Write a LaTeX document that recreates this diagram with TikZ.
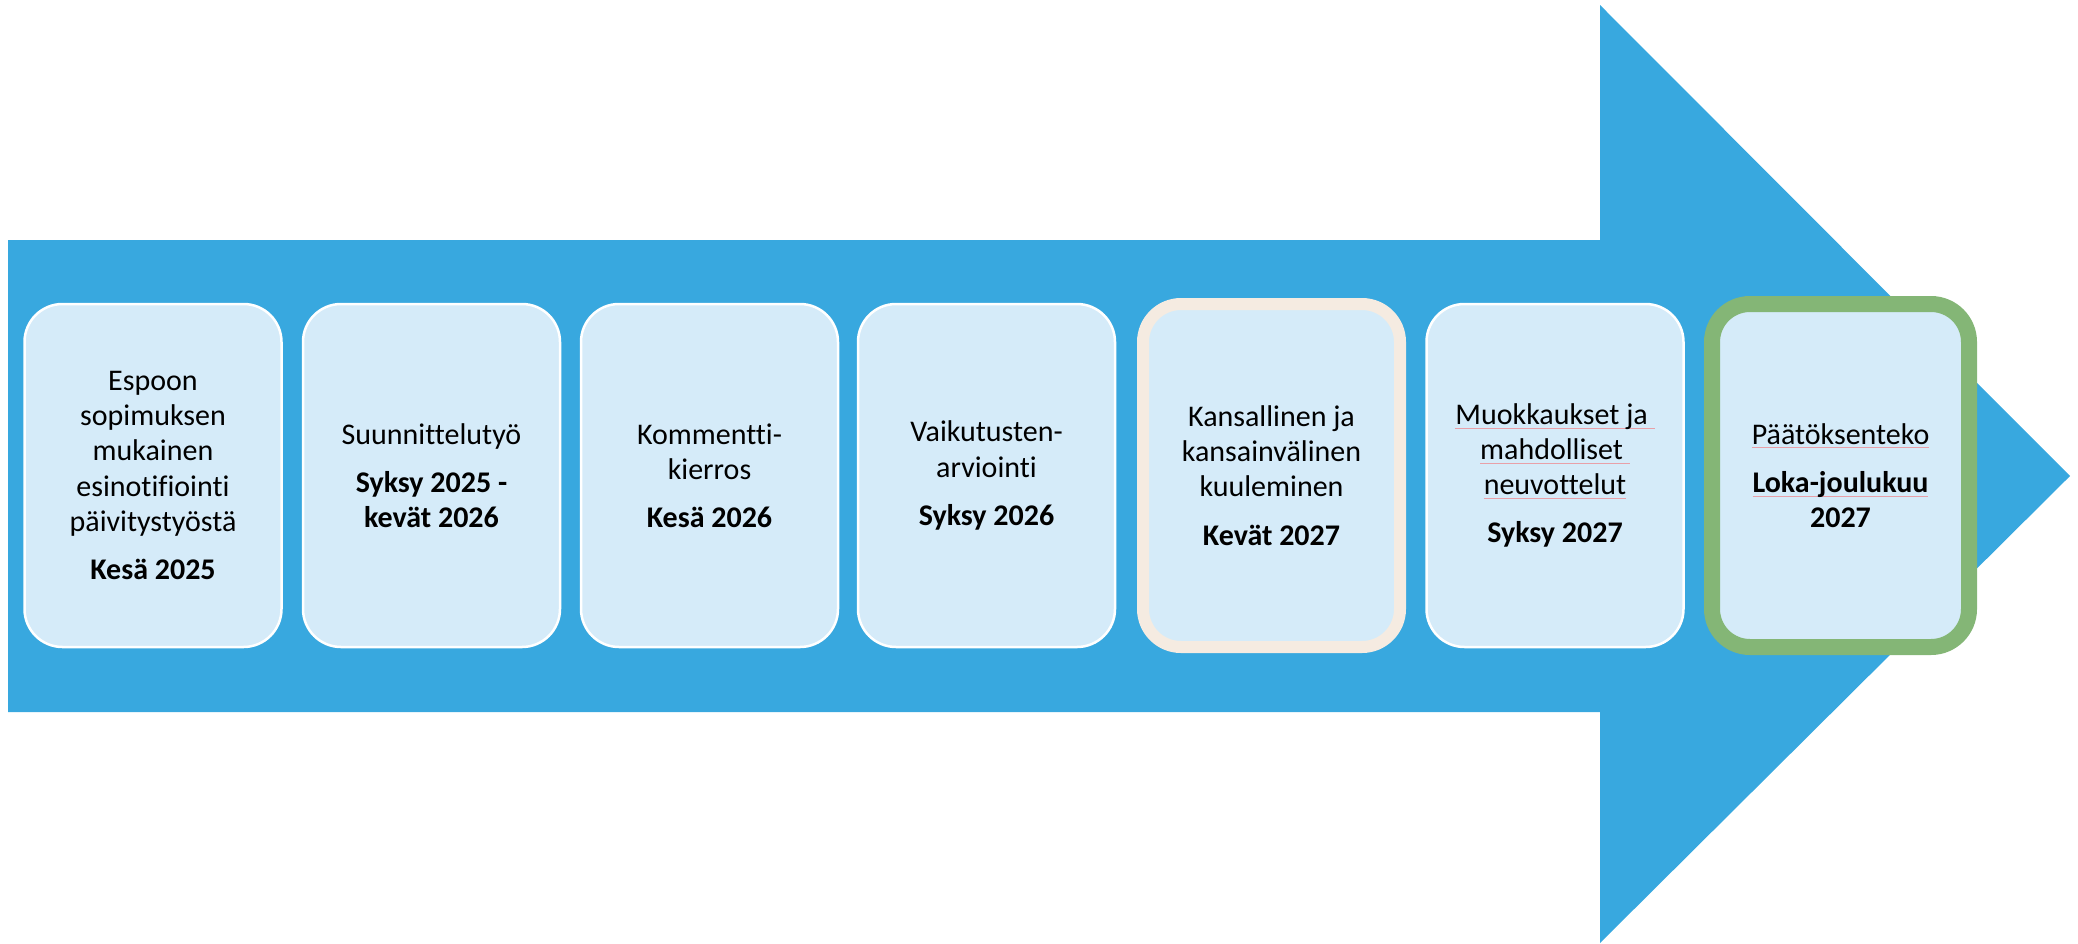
\documentclass[tikz,border=0pt]{standalone}
\usepackage{fontspec}
\setmainfont[Ligatures=NoCommon]{Carlito}
\usetikzlibrary{positioning}

\definecolor{arrowblue}{HTML}{38A8DF}
\definecolor{boxfill}{HTML}{D5EBF9}
\definecolor{beige}{HTML}{F5EBE1}
\definecolor{leafgreen}{HTML}{84B676}
\definecolor{spellred}{HTML}{E8A0A8}
\newcommand{\spellmark}[1]{{\setbox0\hbox{#1}\rlap{\textcolor{spellred}{\rule[-0.3ex]{\wd0}{0.5pt}}}\box0}}

\begin{document}
\begin{tikzpicture}[x=0.5pt,y=-0.5pt]
    \tikzstyle{every node}+=[font=\fontsize{15}{17.6}\selectfont]
    \tikzstyle{phase}=[rectangle, rounded corners=19pt, fill=boxfill, draw=white, line width=1.25pt, minimum width=128.5pt, minimum height=171.5pt, align=center, inner sep=0pt]
    \useasboundingbox (0,0) rectangle (2078,943);
    % big arrow behind the phases
    \fill [arrowblue] (8,240) -- (1600,240) -- (1600,5) -- (2070,476) -- (1600,943) -- (1600,712) -- (8,712) -- cycle;
    \node [phase] (p1) at (153,475.5) {Espoon\\sopimuksen\\mukainen\\esinotifiointi\\päivitystyöstä\\[6.5pt]\textbf{Kesä 2025}};
    \node [phase] (p2) at (431.5,475.5) {Suunnittelutyö\\[6.5pt]\textbf{Syksy 2025 -}\\\textbf{kevät 2026}};
    \node [phase] (p3) at (709.5,475.5) {Kommentti-\\kierros\\[6.5pt]\textbf{Kesä 2026}};
    \node [phase] (p4) at (986.5,475.5) {Vaikutusten-\\arviointi\\[6.5pt]\textbf{Syksy 2026}};
    \node [phase, draw=beige, line width=6pt] (p5) at (1271.5,475.5) {Kansallinen ja\\kansainvälinen\\kuuleminen\\[6.5pt]\textbf{Kevät 2027}};
    \node [phase] (p6) at (1555,475.5) {\spellmark{Muokkaukset ja }\\\spellmark{mahdolliset }\\\spellmark{neuvottelut}\\[6.5pt]\textbf{Syksy 2027}};
    \node [phase, draw=leafgreen, line width=8pt] (p7) at (1840.5,475.5) {\spellmark{Päätöksenteko}\\[6.5pt]\textbf{\spellmark{Loka-joulukuu}}\\\textbf{2027}};
\end{tikzpicture}
\end{document}
